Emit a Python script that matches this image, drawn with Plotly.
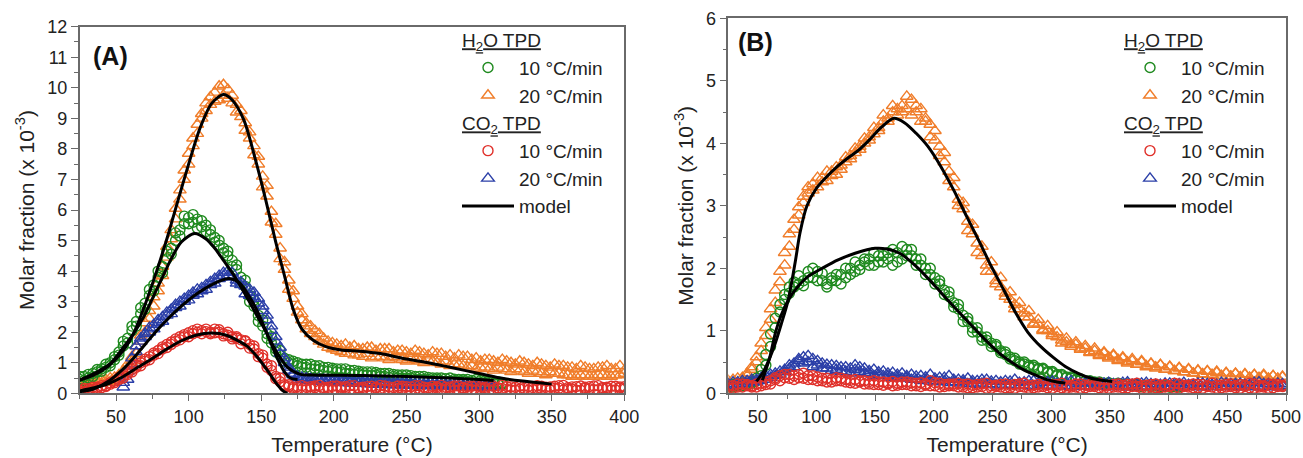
import plotly.graph_objects as go

# ---------------- Panel A data (temperature grid, degC) ----------------
XA = [25, 28, 31, 34, 37, 40, 43, 46, 49, 52,
      55, 58, 61, 64, 67, 70, 73, 76, 79, 82,
      85, 88, 91, 94, 97, 100, 103, 106, 109, 112,
      115, 118, 121, 124, 127, 130, 133, 136, 139, 142,
      145, 148, 151, 154, 157, 160, 163, 166, 169, 172,
      175, 178, 181, 184, 187, 190, 193, 196, 199, 202,
      205, 208, 211, 214, 217, 220, 223, 226, 229, 232,
      235, 238, 241, 244, 247, 250, 253, 256, 259, 262,
      265, 268, 271, 274, 277, 280, 283, 286, 289, 292,
      295, 298, 301, 304, 307, 310, 313, 316, 319, 322,
      325, 328, 331, 334, 337, 340, 343, 346, 349, 352,
      355, 358, 361, 364, 367, 370, 373, 376, 379, 382,
      385, 388, 391, 394, 397, 400]

# H2O TPD, 20 C/min (two repeated runs on the same grid)
H2O_20_A = [0.35, 0.28, 0.40, 0.30, 0.42, 0.33, 0.45, 0.38, 0.52, 0.48,
            0.62, 0.78, 1.05, 1.30, 1.70, 2.00, 2.45, 2.85, 3.35, 3.85,
            4.45, 5.05, 5.70, 6.35, 7.00, 7.50, 8.10, 8.50, 9.00, 9.25,
            9.70, 9.55, 10.05, 9.75, 9.95, 9.50, 9.45, 9.05, 8.85, 8.35,
            8.10, 7.50, 7.10, 6.45, 5.95, 5.20, 4.75, 4.05, 3.70, 3.10,
            2.85, 2.40, 2.30, 1.95, 2.05, 1.70, 1.80, 1.50, 1.65, 1.40,
            1.55, 1.30, 1.50, 1.25, 1.45, 1.20, 1.50, 1.15, 1.40, 1.20,
            1.45, 1.10, 1.35, 1.15, 1.40, 1.05, 1.30, 1.10, 1.35, 1.00,
            1.25, 1.05, 1.30, 0.95, 1.20, 0.90, 1.15, 0.95, 1.20, 0.85,
            1.10, 0.80, 1.05, 0.85, 1.10, 0.75, 1.00, 0.80, 1.05, 0.70,
            0.95, 0.75, 1.00, 0.65, 0.90, 0.70, 0.95, 0.60, 0.85, 0.65,
            0.90, 0.60, 0.85, 0.55, 0.80, 0.60, 0.85, 0.55, 0.80, 0.60,
            0.85, 0.55, 0.80, 0.60, 0.90, 0.65]
H2O_20_A_RUN2 = [0.25, 0.38, 0.30, 0.42, 0.35, 0.45, 0.36, 0.50, 0.42, 0.60,
                 0.75, 0.95, 1.20, 1.55, 1.90, 2.30, 2.70, 3.15, 3.60, 4.15,
                 4.80, 5.35, 6.05, 6.65, 7.30, 7.85, 8.35, 8.80, 9.15, 9.50,
                 9.45, 9.85, 9.60, 10.10, 9.65, 9.75, 9.20, 9.25, 8.60, 8.55,
                 7.80, 7.75, 6.75, 6.80, 5.60, 5.55, 4.40, 4.30, 3.40, 3.35,
                 2.65, 2.60, 2.10, 2.20, 1.85, 1.95, 1.60, 1.70, 1.45, 1.60,
                 1.35, 1.60, 1.30, 1.55, 1.25, 1.45, 1.30, 1.50, 1.20, 1.45,
                 1.15, 1.45, 1.20, 1.40, 1.10, 1.35, 1.15, 1.40, 1.05, 1.30,
                 1.10, 1.35, 1.00, 1.30, 1.05, 1.25, 0.95, 1.25, 0.90, 1.20,
                 0.90, 1.15, 0.85, 1.10, 0.80, 1.05, 0.85, 1.10, 0.75, 1.00,
                 0.80, 1.05, 0.70, 0.95, 0.75, 1.00, 0.65, 0.90, 0.70, 0.95,
                 0.65, 0.90, 0.60, 0.85, 0.55, 0.90, 0.60, 0.80, 0.55, 0.85,
                 0.60, 0.90, 0.55, 0.80, 0.60, 0.75]

# H2O TPD, 10 C/min
H2O_10_A = [0.45, 0.55, 0.50, 0.65, 0.70, 0.80, 0.85, 1.00, 1.10, 1.35,
            1.55, 1.80, 2.05, 2.35, 2.60, 2.95, 3.20, 3.55, 3.80, 4.15,
            4.40, 4.75, 5.00, 5.35, 5.55, 5.75, 5.60, 5.70, 5.45, 5.50,
            5.20, 5.10, 4.85, 4.75, 4.50, 4.35, 4.05, 3.80, 3.50, 3.20,
            2.85, 2.55, 2.20, 1.95, 1.65, 1.45, 1.25, 1.15, 1.00, 1.05,
            0.90, 0.95, 0.85, 0.95, 0.80, 0.90, 0.75, 0.85, 0.75, 0.80,
            0.70, 0.80, 0.65, 0.75, 0.65, 0.70, 0.60, 0.70, 0.60, 0.65,
            0.55, 0.65, 0.55, 0.60, 0.50, 0.60, 0.50, 0.55, 0.45, 0.55,
            0.45, 0.50, 0.45, 0.50, 0.40, 0.50, 0.40, 0.45, 0.40, 0.45,
            0.35, 0.45, 0.35, 0.40, 0.35, 0.40, 0.30, 0.35]
H2O_10_A_RUN2 = [0.55, 0.42, 0.62, 0.55, 0.78, 0.72, 0.95, 0.90, 1.20, 1.25,
                 1.70, 1.65, 2.20, 2.20, 2.80, 2.75, 3.40, 3.35, 4.00, 3.95,
                 4.65, 4.55, 5.25, 5.15, 5.80, 5.55, 5.85, 5.40, 5.65, 5.30,
                 5.35, 4.95, 5.00, 4.60, 4.65, 4.15, 4.20, 3.60, 3.70, 3.00,
                 3.05, 2.35, 2.40, 1.80, 1.85, 1.35, 1.40, 1.05, 1.10, 0.95,
                 1.00, 0.85, 0.95, 0.80, 0.90, 0.78, 0.85, 0.72, 0.82, 0.70,
                 0.80, 0.65, 0.75, 0.62, 0.72, 0.60, 0.70, 0.58, 0.68, 0.55,
                 0.65, 0.52, 0.62, 0.50, 0.60, 0.48, 0.58, 0.45, 0.55, 0.45,
                 0.52, 0.42, 0.50, 0.40, 0.48, 0.40, 0.46, 0.38, 0.45, 0.36,
                 0.42, 0.34, 0.42, 0.33, 0.40, 0.32, 0.38, 0.30]

# CO2 TPD, 20 C/min (first point at 55 C = grid index 10)
CO2_20_A_START = 10
CO2_20_A = [0.20, 0.45, 0.95, 1.35, 1.70, 1.85, 2.00, 2.10, 2.30, 2.35,
            2.55, 2.60, 2.80, 2.85, 3.00, 3.05, 3.20, 3.25, 3.35, 3.40,
            3.55, 3.60, 3.75, 3.85, 4.00, 3.80, 3.70, 3.55, 3.50, 3.40,
            3.30, 3.10, 2.85, 2.55, 2.20, 1.85, 1.50, 1.15, 0.85, 0.65,
            0.55, 0.45, 0.50, 0.40, 0.45, 0.40, 0.45, 0.38, 0.42, 0.35,
            0.42, 0.35, 0.40, 0.33, 0.38, 0.32, 0.37, 0.30, 0.36, 0.30,
            0.35, 0.28, 0.34, 0.28, 0.33, 0.27, 0.32, 0.26, 0.31, 0.25,
            0.30, 0.25, 0.30, 0.24, 0.29, 0.23, 0.28, 0.22, 0.27, 0.22,
            0.26, 0.21, 0.25, 0.20, 0.24, 0.20]
CO2_20_A_RUN2 = [0.35, 0.70, 1.15, 1.55, 1.80, 1.95, 2.15, 2.25, 2.40, 2.50,
                 2.65, 2.75, 2.90, 3.00, 3.10, 3.20, 3.30, 3.40, 3.45, 3.55,
                 3.65, 3.75, 3.85, 3.95, 3.85, 3.95, 3.60, 3.65, 3.25, 3.20,
                 3.15, 2.95, 2.70, 2.40, 2.05, 1.70, 1.30, 1.00, 0.75, 0.60,
                 0.50, 0.52, 0.42, 0.48, 0.40, 0.46, 0.38, 0.44, 0.36, 0.42,
                 0.34, 0.40, 0.33, 0.38, 0.32, 0.37, 0.30, 0.36, 0.29, 0.34,
                 0.28, 0.34, 0.27, 0.33, 0.26, 0.32, 0.25, 0.31, 0.24, 0.30,
                 0.24, 0.29, 0.23, 0.28, 0.22, 0.28, 0.21, 0.27, 0.20, 0.26,
                 0.20, 0.25, 0.19, 0.24, 0.18, 0.23]

# CO2 TPD, 10 C/min
CO2_10_A = [0.10, 0.05, 0.15, 0.12, 0.20, 0.18, 0.25, 0.30, 0.35, 0.45,
            0.50, 0.62, 0.70, 0.85, 0.90, 1.05, 1.10, 1.25, 1.30, 1.45,
            1.50, 1.60, 1.70, 1.75, 1.85, 1.85, 1.95, 2.00, 2.05, 2.10,
            2.00, 2.10, 2.00, 1.95, 1.90, 1.85, 1.80, 1.75, 1.70, 1.60,
            1.45, 1.30, 1.15, 0.95, 0.75, 0.55, 0.38, 0.28, 0.22, 0.20,
            0.15, 0.25, 0.12, 0.22, 0.18, 0.26, 0.14, 0.20, 0.10, 0.24,
            0.16, 0.22, 0.12, 0.25, 0.15, 0.20, 0.11, 0.23, 0.17, 0.26,
            0.13, 0.21, 0.10, 0.24, 0.16, 0.22, 0.12, 0.25, 0.15, 0.20,
            0.11, 0.23, 0.17, 0.26, 0.13, 0.21, 0.10, 0.24, 0.16, 0.22,
            0.12, 0.25, 0.15, 0.20, 0.11, 0.23, 0.17, 0.26, 0.13, 0.21,
            0.10, 0.24, 0.16, 0.22, 0.12, 0.25, 0.15, 0.20, 0.11, 0.23,
            0.17, 0.26, 0.13, 0.21, 0.10, 0.24, 0.16, 0.22, 0.12, 0.25,
            0.15, 0.20, 0.11, 0.23, 0.17, 0.22]
CO2_10_A_RUN2 = [0.05, 0.15, 0.08, 0.20, 0.15, 0.25, 0.22, 0.35, 0.40, 0.52,
                 0.58, 0.70, 0.78, 0.92, 1.00, 1.12, 1.20, 1.32, 1.40, 1.52,
                 1.60, 1.68, 1.78, 1.85, 1.92, 1.98, 2.05, 2.10, 1.95, 2.02,
                 1.95, 1.98, 2.08, 1.88, 2.00, 1.78, 1.85, 1.62, 1.72, 1.48,
                 1.55, 1.20, 1.25, 0.85, 0.90, 0.48, 0.50, 0.22, 0.28, 0.15,
                 0.22, 0.12, 0.20, 0.15, 0.24, 0.10, 0.19, 0.14, 0.23, 0.12,
                 0.21, 0.16, 0.25, 0.11, 0.18, 0.14, 0.22, 0.10, 0.20, 0.15,
                 0.24, 0.12, 0.19, 0.16, 0.23, 0.11, 0.21, 0.13, 0.25, 0.10,
                 0.18, 0.15, 0.22, 0.12, 0.20, 0.16, 0.24, 0.11, 0.19, 0.14,
                 0.23, 0.10, 0.21, 0.15, 0.25, 0.12, 0.18, 0.16, 0.22, 0.11,
                 0.20, 0.14, 0.24, 0.10, 0.19, 0.15, 0.23, 0.12, 0.21, 0.16,
                 0.25, 0.11, 0.18, 0.14, 0.22, 0.10, 0.20, 0.15, 0.24, 0.12,
                 0.19, 0.16, 0.23, 0.11, 0.21, 0.14]

# model curves, panel A
MODEL_H2O_20_A_T = [25, 35, 45, 55, 62, 70, 78, 85, 92, 100, 108, 116, 124, 130, 138, 146,
                    153, 160, 166, 172, 178, 186, 195, 205, 218, 232, 250, 265, 280, 300,
                    315, 330, 350]
MODEL_H2O_20_A = [0.43, 0.60, 0.90, 1.40, 1.95, 2.90, 4.00, 5.05, 6.20, 7.50, 8.70, 9.50,
                  9.78, 9.60, 8.95, 7.65, 6.35, 4.95, 3.85, 2.75, 2.10, 1.73, 1.52, 1.42,
                  1.38, 1.30, 1.12, 1.00, 0.85, 0.65, 0.50, 0.40, 0.30]
MODEL_H2O_10_A_T = [25, 35, 46, 55, 62, 69, 76, 82, 88, 95, 104, 112, 118, 124, 132, 140,
                    147, 154, 160, 168, 177, 185, 220, 250, 280, 300, 310]
MODEL_H2O_10_A = [0.43, 0.65, 0.97, 1.50, 1.95, 2.50, 3.20, 3.80, 4.40, 4.95, 5.23, 5.05,
                  4.75, 4.35, 3.80, 3.15, 2.55, 1.95, 1.40, 0.86, 0.62, 0.60, 0.58, 0.55,
                  0.50, 0.45, 0.42]
MODEL_CO2_20_A_T = [25, 35, 45, 55, 62, 70, 78, 86, 95, 104, 112, 120, 128, 135, 142, 147,
                    154, 161, 166, 170, 175]
MODEL_CO2_20_A = [0.05, 0.15, 0.40, 0.80, 1.15, 1.60, 2.05, 2.45, 2.85, 3.20, 3.45, 3.65,
                  3.76, 3.62, 3.15, 2.72, 1.95, 1.15, 0.70, 0.50, 0.45]
MODEL_CO2_10_A_T = [25, 35, 45, 55, 65, 75, 85, 95, 105, 116, 126, 134, 140, 148, 155, 160,
                    165, 168]
MODEL_CO2_10_A = [0.08, 0.18, 0.32, 0.55, 0.85, 1.14, 1.45, 1.72, 1.90, 1.97, 1.90, 1.72,
                  1.55, 1.15, 0.70, 0.35, 0.08, 0.00]

# ---------------- Panel B data ----------------
XB = [25, 29, 33, 37, 41, 45, 49, 53, 57, 61,
      65, 69, 73, 77, 81, 85, 89, 93, 97, 101,
      105, 109, 113, 117, 121, 125, 129, 133, 137, 141,
      145, 149, 153, 157, 161, 165, 169, 173, 177, 181,
      185, 189, 193, 197, 201, 205, 209, 213, 217, 221,
      225, 229, 233, 237, 241, 245, 249, 253, 257, 261,
      265, 269, 273, 277, 281, 285, 289, 293, 297, 301,
      305, 309, 313, 317, 321, 325, 329, 333, 337, 341,
      345, 349, 353, 357, 361, 365, 369, 373, 377, 381,
      385, 389, 393, 397, 401, 405, 409, 413, 417, 421,
      425, 429, 433, 437, 441, 445, 449, 453, 457, 461,
      465, 469, 473, 477, 481, 485, 489, 493, 497]

H2O_20_B = [0.15, 0.22, 0.14, 0.25, 0.28, 0.38, 0.50, 0.68, 0.92, 1.18,
            1.45, 1.78, 2.05, 2.35, 2.62, 2.85, 3.05, 3.20, 3.35, 3.30,
            3.45, 3.40, 3.55, 3.50, 3.65, 3.70, 3.80, 3.85, 3.95, 4.00,
            4.10, 4.15, 4.25, 4.35, 4.40, 4.50, 4.45, 4.60, 4.55, 4.70,
            4.50, 4.55, 4.35, 4.30, 4.05, 3.95, 3.70, 3.55, 3.30, 3.10,
            2.95, 2.75, 2.55, 2.40, 2.20, 2.05, 1.95, 1.80, 1.70, 1.60,
            1.50, 1.42, 1.35, 1.28, 1.22, 1.12, 1.10, 1.02, 1.00, 0.92,
            0.90, 0.80, 0.82, 0.75, 0.78, 0.70, 0.72, 0.65, 0.68, 0.60,
            0.64, 0.58, 0.60, 0.52, 0.56, 0.50, 0.52, 0.46, 0.50, 0.44,
            0.47, 0.42, 0.45, 0.38, 0.42, 0.36, 0.40, 0.34, 0.38, 0.32,
            0.36, 0.30, 0.35, 0.30, 0.33, 0.28, 0.32, 0.27, 0.31, 0.26,
            0.30, 0.25, 0.30, 0.25, 0.28, 0.24, 0.28, 0.23, 0.27]
H2O_20_B_RUN2 = [0.20, 0.15, 0.24, 0.18, 0.32, 0.42, 0.58, 0.80, 1.05, 1.35,
                 1.65, 1.95, 2.25, 2.55, 2.78, 2.98, 3.15, 3.30, 3.25, 3.45,
                 3.38, 3.55, 3.48, 3.62, 3.58, 3.78, 3.75, 3.92, 3.90, 4.08,
                 4.05, 4.25, 4.20, 4.45, 4.35, 4.60, 4.55, 4.50, 4.75, 4.45,
                 4.60, 4.35, 4.40, 4.10, 4.20, 3.80, 3.85, 3.40, 3.45, 3.00,
                 3.05, 2.60, 2.70, 2.25, 2.35, 1.95, 2.10, 1.75, 1.85, 1.55,
                 1.62, 1.35, 1.45, 1.22, 1.32, 1.10, 1.18, 1.00, 1.08, 0.95,
                 0.98, 0.85, 0.88, 0.78, 0.82, 0.72, 0.76, 0.66, 0.72, 0.62,
                 0.66, 0.56, 0.62, 0.54, 0.58, 0.48, 0.55, 0.46, 0.52, 0.42,
                 0.48, 0.40, 0.46, 0.38, 0.43, 0.36, 0.41, 0.34, 0.39, 0.32,
                 0.37, 0.31, 0.36, 0.29, 0.35, 0.28, 0.33, 0.27, 0.32, 0.26,
                 0.31, 0.25, 0.29, 0.24, 0.30, 0.23, 0.28, 0.24, 0.26]

H2O_10_B = [0.12, 0.10, 0.15, 0.12, 0.15, 0.18, 0.20, 0.28, 0.45, 0.75,
            1.05, 1.30, 1.50, 1.60, 1.70, 1.75, 1.80, 1.95, 1.85, 1.95,
            1.80, 1.75, 1.85, 1.80, 1.90, 1.85, 2.00, 1.95, 2.05, 2.10,
            2.15, 2.05, 2.20, 2.10, 2.15, 2.05, 2.25, 2.15, 2.30, 2.20,
            2.15, 2.05, 2.00, 1.90, 1.85, 1.75, 1.65, 1.55, 1.45, 1.35,
            1.25, 1.15, 1.05, 0.98, 0.90, 0.85, 0.80, 0.75, 0.68, 0.62,
            0.58, 0.52, 0.50, 0.47, 0.45, 0.42, 0.40, 0.38, 0.35, 0.33,
            0.30, 0.28, 0.26, 0.24, 0.22, 0.21, 0.20, 0.19, 0.18, 0.17,
            0.16, 0.16, 0.15, 0.15, 0.14, 0.14, 0.13, 0.13, 0.12, 0.12,
            0.11, 0.12, 0.10, 0.11, 0.10, 0.12, 0.10]
H2O_10_B_RUN2 = [0.10, 0.14, 0.12, 0.16, 0.13, 0.16, 0.24, 0.38, 0.62, 0.95,
                 1.20, 1.42, 1.58, 1.70, 1.78, 1.88, 1.72, 1.85, 2.00, 1.80,
                 1.92, 1.70, 1.80, 1.90, 1.75, 2.00, 1.90, 2.10, 1.98, 2.15,
                 2.05, 2.25, 2.10, 2.20, 2.25, 2.30, 2.10, 2.35, 2.20, 2.30,
                 2.05, 2.15, 1.90, 2.00, 1.75, 1.80, 1.58, 1.62, 1.38, 1.42,
                 1.15, 1.20, 0.98, 1.05, 0.85, 0.90, 0.75, 0.78, 0.65, 0.66,
                 0.55, 0.56, 0.47, 0.50, 0.42, 0.45, 0.38, 0.40, 0.33, 0.35,
                 0.28, 0.30, 0.25, 0.26, 0.21, 0.23, 0.19, 0.20, 0.17, 0.18,
                 0.15, 0.17, 0.14, 0.16, 0.13, 0.15, 0.12, 0.14, 0.11, 0.13,
                 0.10, 0.12, 0.11, 0.12, 0.10, 0.11, 0.12]

CO2_20_B = [0.15, 0.12, 0.18, 0.15, 0.20, 0.18, 0.22, 0.20, 0.28, 0.25,
            0.32, 0.30, 0.38, 0.40, 0.48, 0.52, 0.58, 0.50, 0.55, 0.45,
            0.48, 0.40, 0.45, 0.38, 0.42, 0.35, 0.40, 0.45, 0.35, 0.40,
            0.32, 0.38, 0.30, 0.35, 0.28, 0.33, 0.26, 0.32, 0.25, 0.30,
            0.22, 0.28, 0.22, 0.30, 0.20, 0.25, 0.20, 0.28, 0.18, 0.22,
            0.18, 0.24, 0.16, 0.20, 0.16, 0.22, 0.15, 0.20, 0.14, 0.20,
            0.14, 0.22, 0.13, 0.18, 0.12, 0.20, 0.14, 0.17, 0.12, 0.19,
            0.13, 0.17, 0.12, 0.20, 0.12, 0.16, 0.11, 0.18, 0.12, 0.16,
            0.11, 0.17, 0.12, 0.15, 0.10, 0.18, 0.11, 0.15, 0.10, 0.17,
            0.11, 0.14, 0.10, 0.16, 0.11, 0.15, 0.10, 0.17, 0.11, 0.14,
            0.10, 0.16, 0.11, 0.14, 0.10, 0.17, 0.11, 0.15, 0.10, 0.16,
            0.11, 0.14, 0.10, 0.18, 0.11, 0.15, 0.10, 0.16, 0.12]
CO2_20_B_RUN2 = [0.12, 0.18, 0.14, 0.20, 0.16, 0.22, 0.18, 0.25, 0.22, 0.30,
                 0.28, 0.35, 0.34, 0.45, 0.42, 0.55, 0.48, 0.60, 0.42, 0.52,
                 0.40, 0.46, 0.36, 0.44, 0.35, 0.42, 0.32, 0.38, 0.42, 0.33,
                 0.36, 0.28, 0.34, 0.28, 0.32, 0.25, 0.30, 0.24, 0.28, 0.22,
                 0.27, 0.20, 0.26, 0.19, 0.24, 0.18, 0.25, 0.17, 0.22, 0.16,
                 0.21, 0.15, 0.20, 0.14, 0.22, 0.14, 0.19, 0.13, 0.18, 0.13,
                 0.19, 0.12, 0.17, 0.12, 0.20, 0.11, 0.16, 0.12, 0.18, 0.11,
                 0.16, 0.11, 0.18, 0.10, 0.15, 0.11, 0.17, 0.10, 0.15, 0.11,
                 0.16, 0.10, 0.15, 0.11, 0.17, 0.10, 0.14, 0.11, 0.16, 0.10,
                 0.15, 0.11, 0.14, 0.10, 0.16, 0.11, 0.15, 0.10, 0.14, 0.11,
                 0.16, 0.10, 0.15, 0.11, 0.14, 0.10, 0.16, 0.11, 0.15, 0.10,
                 0.14, 0.11, 0.17, 0.10, 0.15, 0.11, 0.14, 0.10, 0.15]

CO2_10_B = [0.08, 0.12, 0.10, 0.15, 0.12, 0.10, 0.15, 0.12, 0.18, 0.15,
            0.22, 0.28, 0.25, 0.30, 0.22, 0.25, 0.32, 0.28, 0.22, 0.26,
            0.20, 0.24, 0.18, 0.25, 0.20, 0.22, 0.17, 0.22, 0.18, 0.20,
            0.15, 0.20, 0.14, 0.18, 0.15, 0.19, 0.13, 0.18, 0.14, 0.17,
            0.12, 0.17, 0.13, 0.20, 0.12, 0.16, 0.11, 0.15, 0.12, 0.16,
            0.10, 0.15, 0.09, 0.14, 0.11, 0.16, 0.08, 0.13, 0.10, 0.15,
            0.09, 0.14, 0.11, 0.16, 0.08, 0.13, 0.10, 0.15, 0.09, 0.14,
            0.11, 0.16, 0.08, 0.13, 0.10, 0.15, 0.09, 0.14, 0.11, 0.16,
            0.08, 0.13, 0.10, 0.15, 0.09, 0.14, 0.11, 0.16, 0.08, 0.13,
            0.10, 0.15, 0.09, 0.14, 0.11, 0.16, 0.08, 0.13, 0.10, 0.15,
            0.09, 0.14, 0.11, 0.16, 0.08, 0.13, 0.10, 0.15, 0.09, 0.14,
            0.11, 0.16, 0.08, 0.13, 0.10, 0.15, 0.09, 0.14, 0.11]
CO2_10_B_RUN2 = [0.12, 0.08, 0.15, 0.10, 0.14, 0.12, 0.10, 0.16, 0.14, 0.20,
                 0.25, 0.20, 0.30, 0.24, 0.28, 0.30, 0.24, 0.22, 0.28, 0.20,
                 0.24, 0.18, 0.22, 0.20, 0.24, 0.18, 0.21, 0.16, 0.20, 0.15,
                 0.19, 0.14, 0.18, 0.13, 0.17, 0.12, 0.16, 0.14, 0.18, 0.12,
                 0.16, 0.11, 0.15, 0.12, 0.17, 0.10, 0.14, 0.12, 0.15, 0.10,
                 0.14, 0.09, 0.13, 0.10, 0.15, 0.08, 0.12, 0.11, 0.14, 0.09,
                 0.13, 0.08, 0.15, 0.10, 0.12, 0.09, 0.14, 0.11, 0.13, 0.08,
                 0.14, 0.09, 0.12, 0.10, 0.15, 0.08, 0.13, 0.11, 0.14, 0.09,
                 0.12, 0.08, 0.14, 0.10, 0.13, 0.09, 0.15, 0.11, 0.12, 0.08,
                 0.14, 0.09, 0.13, 0.10, 0.12, 0.08, 0.15, 0.11, 0.13, 0.09,
                 0.14, 0.08, 0.12, 0.10, 0.13, 0.09, 0.14, 0.11, 0.12, 0.08,
                 0.13, 0.09, 0.15, 0.10, 0.12, 0.08, 0.14, 0.11, 0.13]

MODEL_H2O_20_B_T = [49, 55, 60, 65, 70, 76, 82, 86, 92, 100, 108, 118, 128, 136, 145, 155,
                    166, 175, 185, 195, 206, 217, 228, 239, 249, 260, 270, 280, 291, 302,
                    312, 323, 334, 343, 352]
MODEL_H2O_20_B = [0.19, 0.35, 0.55, 0.80, 1.10, 1.49, 2.10, 2.56, 3.00, 3.28, 3.45, 3.63,
                  3.78, 3.89, 4.05, 4.25, 4.40, 4.33, 4.16, 3.95, 3.63, 3.25, 2.83, 2.42,
                  2.03, 1.64, 1.28, 0.98, 0.75, 0.57, 0.43, 0.32, 0.24, 0.21, 0.19]
MODEL_H2O_10_B_T = [54, 60, 65, 70, 76, 84, 93, 105, 118, 133, 150, 160, 171, 185, 199, 213,
                    228, 242, 256, 266, 277, 288, 298, 305, 312]
MODEL_H2O_10_B = [0.21, 0.55, 0.96, 1.25, 1.49, 1.70, 1.87, 2.00, 2.13, 2.24, 2.32, 2.31,
                  2.24, 2.03, 1.76, 1.47, 1.17, 0.89, 0.64, 0.50, 0.37, 0.28, 0.21, 0.18,
                  0.16]

# ---------------- styling ----------------
GREEN = "#1f8a1f"
ORANGE = "#f07d2a"
RED = "#e0302a"
BLUE = "#2b3fa8"
AXC = "#6a6a6a"
FONT = "Liberation Sans, Arial, sans-serif"

fig = go.Figure()


def add_series(xs, runs, color, symbol, name, group, gtitle, rank, xa, ya, leg, size):
    x_all, y_all = [], []
    for r in runs:
        x_all += xs[:len(r)]
        y_all += r
    fig.add_trace(go.Scatter(
        x=x_all, y=y_all, mode="markers", name=name,
        marker=dict(symbol=symbol, size=size, color=color, line=dict(width=1.4, color=color)),
        legendgroup=group, legendgrouptitle=dict(text=gtitle) if gtitle else None,
        legendrank=rank, xaxis=xa, yaxis=ya, legend=leg, showlegend=True,
    ))


def add_model(x, y, xa, ya, leg, show):
    fig.add_trace(go.Scatter(
        x=x, y=y, mode="lines", name="model",
        line=dict(color="black", width=3, shape="spline", smoothing=0.8),
        legendgroup="model" + leg, legendrank=5, xaxis=xa, yaxis=ya, legend=leg,
        showlegend=show,
    ))


H2O_T = "<u>H<sub>2</sub>O TPD</u>"
CO2_T = "<u>CO<sub>2</sub> TPD</u>"
TEN = "10 \u00b0C/min"
TWENTY = "20 \u00b0C/min"
XA_CO2_20 = XA[CO2_20_A_START:]

# Panel A
add_series(XA, [H2O_20_A, H2O_20_A_RUN2], ORANGE, "triangle-up-open", TWENTY, "h2oA", None, 2, "x", "y", "legend", 11)
add_series(XA, [H2O_10_A, H2O_10_A_RUN2], GREEN, "circle-open", TEN, "h2oA", H2O_T, 1, "x", "y", "legend", 10)
add_series(XA_CO2_20, [CO2_20_A, CO2_20_A_RUN2], BLUE, "triangle-up-open", TWENTY, "co2A", None, 4, "x", "y", "legend", 11)
add_series(XA, [CO2_10_A, CO2_10_A_RUN2], RED, "circle-open", TEN, "co2A", CO2_T, 3, "x", "y", "legend", 10)
add_model(MODEL_H2O_20_A_T, MODEL_H2O_20_A, "x", "y", "legend", True)
add_model(MODEL_H2O_10_A_T, MODEL_H2O_10_A, "x", "y", "legend", False)
add_model(MODEL_CO2_20_A_T, MODEL_CO2_20_A, "x", "y", "legend", False)
add_model(MODEL_CO2_10_A_T, MODEL_CO2_10_A, "x", "y", "legend", False)

# Panel B
add_series(XB, [H2O_20_B, H2O_20_B_RUN2], ORANGE, "triangle-up-open", TWENTY, "h2oB", None, 2, "x2", "y2", "legend2", 11)
add_series(XB, [H2O_10_B, H2O_10_B_RUN2], GREEN, "circle-open", TEN, "h2oB", H2O_T, 1, "x2", "y2", "legend2", 10)
add_series(XB, [CO2_20_B, CO2_20_B_RUN2], BLUE, "triangle-up-open", TWENTY, "co2B", None, 4, "x2", "y2", "legend2", 11)
add_series(XB, [CO2_10_B, CO2_10_B_RUN2], RED, "circle-open", TEN, "co2B", CO2_T, 3, "x2", "y2", "legend2", 10)
add_model(MODEL_H2O_20_B_T, MODEL_H2O_20_B, "x2", "y2", "legend2", True)
add_model(MODEL_H2O_10_B_T, MODEL_H2O_10_B, "x2", "y2", "legend2", False)

W, H = 1303, 458


def xaxis_cfg(left, right, rng, tickvals, anchor):
    return dict(
        domain=[left / W, right / W], range=rng, tickvals=tickvals, anchor=anchor,
        ticks="outside", ticklen=6, tickwidth=1.2, tickcolor=AXC,
        minor=dict(dtick=25, ticks="outside", ticklen=4, tickcolor=AXC, tickwidth=1),
        showline=True, linecolor=AXC, linewidth=1.5, mirror=True,
        showgrid=False, zeroline=False, automargin=False, ticklabeloverflow="allow",
        tickfont=dict(size=18, color="#222"),
        title=dict(text="Temperature (\u00b0C)", font=dict(size=21, color="#222"), standoff=12),
    )


def yaxis_cfg(bottom, top, rng, tickvals, anchor):
    return dict(
        domain=[1 - bottom / H, 1 - top / H], range=rng, tickvals=tickvals, anchor=anchor,
        ticks="outside", ticklen=7, tickwidth=1.2, tickcolor=AXC,
        minor=dict(dtick=0.5, ticks="outside", ticklen=4, tickcolor=AXC, tickwidth=1),
        showline=True, linecolor=AXC, linewidth=1.5, mirror=True,
        showgrid=False, zeroline=False, automargin=False, ticklabeloverflow="allow",
        tickfont=dict(size=18, color="#222"),
        title=dict(text="Molar fraction (x 10<sup>-3</sup>)", font=dict(size=21, color="#222"), standoff=7),
    )


legend_common = dict(
    xanchor="left", yanchor="top", bgcolor="rgba(0,0,0,0)", borderwidth=0,
    font=dict(size=19, color="#222", family=FONT), itemwidth=52,
    tracegroupgap=0, traceorder="grouped",
    grouptitlefont=dict(size=19, color="#222", family=FONT),
)

fig.update_layout(
    width=W, height=H, margin=dict(l=0, r=0, t=0, b=0, autoexpand=False),
    paper_bgcolor="white", plot_bgcolor="white",
    font=dict(family=FONT, color="#222"),
    xaxis=xaxis_cfg(79.7, 624.3, [25, 400], [50, 100, 150, 200, 250, 300, 350, 400], "y"),
    yaxis=yaxis_cfg(393.3, 26.7, [0, 12], [0, 1, 2, 3, 4, 5, 6, 7, 8, 9, 10, 11, 12], "x"),
    xaxis2=xaxis_cfg(728.3, 1286.0, [25, 500], [50, 100, 150, 200, 250, 300, 350, 400, 450, 500], "y2"),
    yaxis2=yaxis_cfg(393.3, 18.3, [0, 6], [0, 1, 2, 3, 4, 5, 6], "x2"),
    legend=dict(legend_common, x=457 / W, y=1 - 21 / H),
    legend2=dict(legend_common, x=1119 / W, y=1 - 21 / H),
    annotations=[
        dict(text="<b>(A)</b>", xref="paper", yref="paper", x=110 / W, y=1 - 56 / H,
             xanchor="center", yanchor="middle", showarrow=False, font=dict(size=25, color="#111")),
        dict(text="<b>(B)</b>", xref="paper", yref="paper", x=755 / W, y=1 - 42 / H,
             xanchor="center", yanchor="middle", showarrow=False, font=dict(size=25, color="#111")),
    ],
)

fig.write_html("out.html", config={"displayModeBar": False},
               post_script="document.body.style.margin='0';document.body.style.overflow='hidden';")
